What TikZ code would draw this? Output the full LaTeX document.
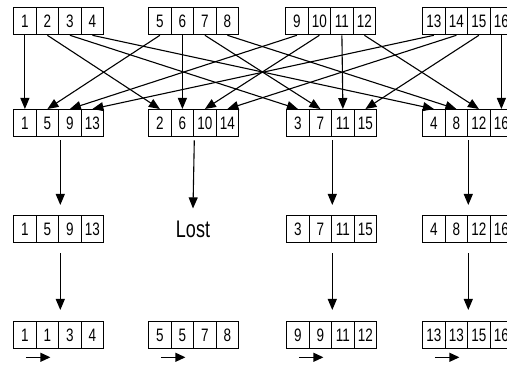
\documentclass[tikz,border=0pt]{standalone}
\usepackage{fontspec}
\setmainfont{Liberation Sans}
\newfontfamily\cf[FakeStretch=0.75]{Liberation Sans}
\usetikzlibrary{arrows.meta,calc}
\begin{document}
\begin{tikzpicture}[x=1pt,y=-1pt,
  cell/.style={draw, line width=1.3pt, minimum width=22.5pt, minimum height=27pt, inner sep=0pt, anchor=north west, font=\cf\fontsize{18}{18}\selectfont},
  arr/.style={line width=1.1pt, -{Triangle[width=9pt,length=11pt]}},
  sarr/.style={line width=1.2pt, -{Triangle[width=9pt,length=10pt]}},
  lbl/.style={font=\cf\fontsize{24}{24}\selectfont, inner sep=0pt}]
\useasboundingbox (0,0) rectangle (507,366);
% top row: a<n>
\foreach \g/\L in {1/13,2/148,3/285,4/422}{
  \foreach \k in {1,...,4}{
    \pgfmathtruncatemacro\n{4*(\g-1)+\k}
    \node[cell] (a\n) at ({\L+22.5*(\k-1)},7) {\n};
  }
}
% second row: group i, position g holds number 4(g-1)+i ; named b<n>
\foreach \i/\L in {1/13,2/148,3/286,4/422}{
  \foreach \g in {1,...,4}{
    \pgfmathtruncatemacro\n{4*(\g-1)+\i}
    \node[cell] (b\n) at ({\L+22.5*(\g-1)},109) {\n};
  }
}
% arrows top -> second
\foreach \n in {1,...,16}{
  \draw[arr] (a\n.south) -- (b\n.north);
}
% third row
\foreach \g/\L/\cs in {1/13/{1,5,9,13},3/286/{3,7,11,15},4/422/{4,8,12,16}}{
  \foreach \v [count=\k] in \cs{
    \node[cell] (c\g\k) at ({\L+22.5*(\k-1)},215) {\v};
  }
}
\node[lbl] (lost) at (193,229) {Lost};
% fourth row
\foreach \g/\L/\cs in {1/13/{1,1,3,4},2/148/{5,5,7,8},3/286/{9,9,11,12},4/422/{13,13,15,16}}{
  \foreach \v [count=\k] in \cs{
    \node[cell] (d\g\k) at ({\L+22.5*(\k-1)},321) {\v};
  }
}
% vertical arrows second -> third
\draw[arr] ([xshift=1pt,yshift=-3pt]b5.south east) -- ([xshift=1pt,yshift=10pt]c12.north east);
\draw[arr] ([yshift=-3pt]b6.south east) -- ([yshift=12pt]lost.north);
\draw[arr] ([yshift=-3pt]b7.south east) -- ([yshift=10pt]c32.north east);
\draw[arr] ([yshift=-3pt]b8.south east) -- ([yshift=10pt]c42.north east);
% third -> fourth
\draw[arr] ([xshift=1pt,yshift=-10pt]c12.south east) -- ([xshift=1pt,yshift=11pt]d12.north east);
\draw[arr] ([yshift=-10pt]c32.south east) -- ([yshift=11pt]d32.north east);
\draw[arr] ([yshift=-10pt]c42.south east) -- ([yshift=11pt]d42.north east);
% small arrows below bottom row
\foreach \g in {1,...,4}{
  \draw[sarr] ([xshift=1pt,yshift=-8pt]d\g1.south) -- ([xshift=3pt,yshift=-8pt]d\g2.south);
}
\end{tikzpicture}
\end{document}
